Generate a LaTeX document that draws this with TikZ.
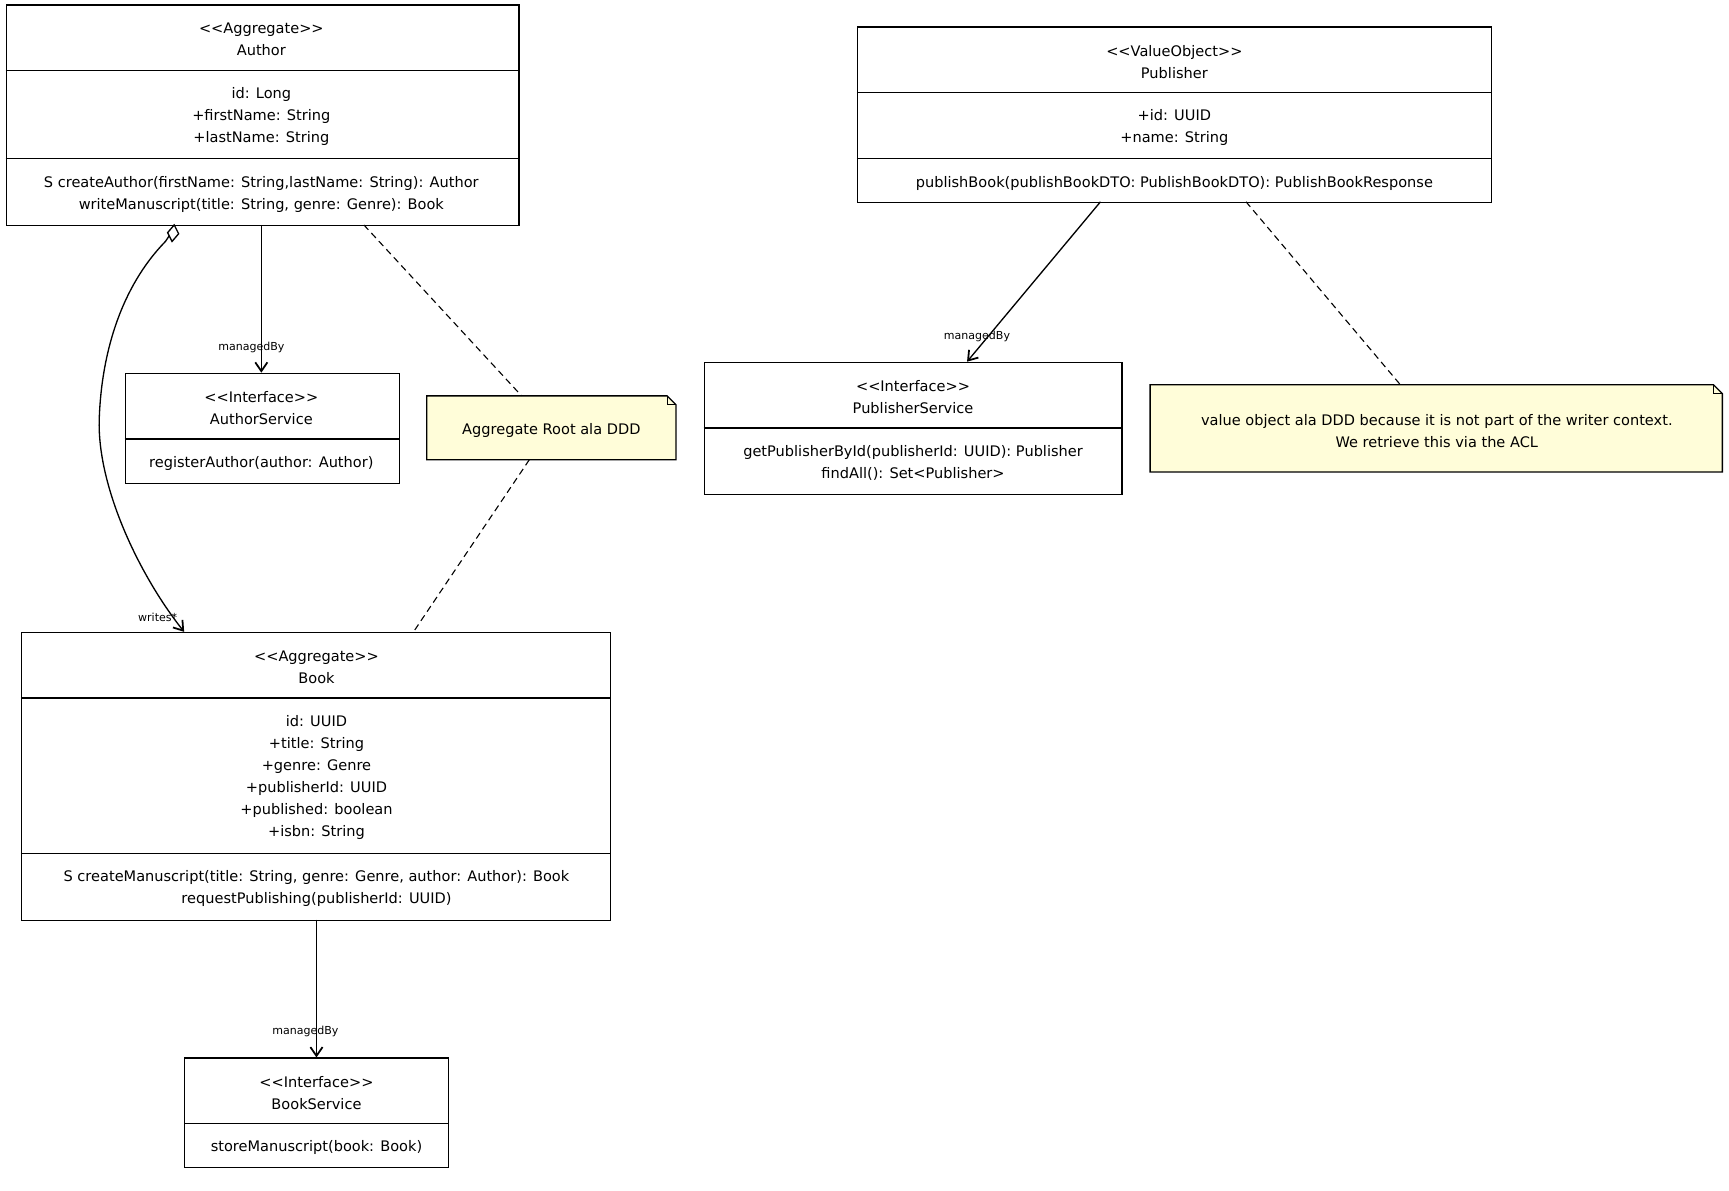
\documentclass[tikz,border=0pt]{standalone}
\usepackage{fontspec}
\setmainfont{DejaVu Sans}
\usetikzlibrary{arrows.meta,shapes.geometric}
\newcommand{\ltlt}{{<}{<}}
\newcommand{\gtgt}{{>}{>}}
\begin{document}
\begin{tikzpicture}[x=0.5pt,y=-0.5pt,
  box/.style={draw,line width=0.6pt,anchor=north west,inner sep=0pt,fill=white},
  txt/.style={align=center,font=\fontsize{6.6}{10}\selectfont,inner sep=0pt,yshift=-1pt},
  lbl/.style={font=\fontsize{5}{6}\selectfont,inner sep=0pt},
  conn/.style={line width=0.6pt,-{Straight Barb[length=4pt,width=5.5pt,line width=0.8pt]}},
  noteline/.style={line width=0.5pt,dash pattern=on 3pt off 2pt}]
\useasboundingbox (0,0) rectangle (1568,1080);
\newcommand{\umlbox}[7]{% name,x1,y1,x2,y2,sep1,sep2
  \node[box,minimum width={(#4-#2)*0.5pt},minimum height={(#5-#3)*0.5pt}] (#1) at (#2,#3) {};
  \draw[line width=0.6pt] (#2,#6) -- (#4,#6);
  \ifx&#7&\else\draw[line width=0.6pt] (#2,#7) -- (#4,#7);\fi}
\newcommand{\note}[5]{%
  \fill[yellow!15!white] (#2,#3) -- (#4-8,#3) -- (#4,#3+8) -- (#4,#5) -- (#2,#5) -- cycle;
  \node[draw=none,anchor=north west,minimum width={(#4-#2)*0.5pt},minimum height={(#5-#3)*0.5pt},inner sep=0pt] (#1) at (#2,#3) {};
  \draw[line width=0.6pt] (#2,#3) -- (#4-8,#3) -- (#4,#3+8) -- (#4,#5) -- (#2,#5) -- cycle;
  \draw[line width=0.5pt] (#4-8,#3) -- (#4-8,#3+8) -- (#4,#3+8);}
% Author
\umlbox{author}{5}{4}{470}{204}{64}{144}
\node[txt] (authorT) at (237,34) {\ltlt Aggregate\gtgt\\Author};
\node[txt] (authorA) at (237,104) {id: Long\\+firstName: String\\+lastName: String};
\node[txt] (authorO) at (237,174) {S createAuthor(firstName: String,lastName: String): Author\\writeManuscript(title: String, genre: Genre): Book};
% AuthorService
\umlbox{aserv}{113}{338}{362}{438}{398}{}
\node[txt] (aservT) at (237,368) {\ltlt Interface\gtgt\\AuthorService};
\node[txt] (aservO) at (237,418) {registerAuthor(author: Author)};
% Note 1
\note{note1}{387}{359}{613}{417}
\node[txt] (note1T) at (500,388) {Aggregate Root ala DDD};
% Book
\umlbox{book}{19}{573}{553}{834}{633}{774}
\node[txt] (bookT) at (287,603) {\ltlt Aggregate\gtgt\\Book};
\node[txt] (bookA) at (287,703) {id: UUID\\+title: String\\+genre: Genre\\+publisherId: UUID\\+published: boolean\\+isbn: String};
\node[txt] (bookO) at (287,804) {S createManuscript(title: String, genre: Genre, author: Author): Book\\requestPublishing(publisherId: UUID)};
% BookService
\umlbox{bserv}{167}{959}{406}{1058}{1019}{}
\node[txt] (bservT) at (287,989) {\ltlt Interface\gtgt\\BookService};
\node[txt] (bservO) at (287,1039) {storeManuscript(book: Book)};
% Publisher
\umlbox{pub}{777}{24}{1352}{183}{84}{144}
\node[txt] (pubT) at (1065,54) {\ltlt ValueObject\gtgt\\Publisher};
\node[txt] (pubA) at (1065,114) {+id: UUID\\+name: String};
\node[txt] (pubO) at (1065,164) {publishBook(publishBookDTO: PublishBookDTO): PublishBookResponse};
% PublisherService
\umlbox{pserv}{638}{328}{1017}{448}{388}{}
\node[txt] (pservT) at (828,358) {\ltlt Interface\gtgt\\PublisherService};
\node[txt] (pservO) at (828,418) {getPublisherById(publisherId: UUID): Publisher\\findAll(): Set<Publisher>};
% Note 2
\note{note2}{1043}{349}{1562}{428}
\node[txt] (note2T) at (1303,389) {value object ala DDD because it is not part of the writer context.\\We retrieve this via the ACL};
% connectors
\coordinate (a1) at (237,204); \coordinate (as1) at (237,338);
\draw[conn] (a1) -- (as1);
\node[lbl] (l1) at (228,315) {managedBy};
\coordinate (a2) at (330,204); \coordinate (n1a) at (473,359);
\draw[noteline] (a2) -- (n1a);
\coordinate (n1b) at (480,417); \coordinate (b1) at (375,573);
\draw[noteline] (n1b) -- (b1);
\coordinate (a3) at (158,204); \coordinate (b2) at (167,573);
\draw[conn] (a3) -- ++(-4,9) -- ++(-4,6) .. controls (110,260) and (92,320) .. (90,380) .. controls (88,440) and (125,520) .. (b2);
\draw[line width=0.6pt,fill=white] (158,204) -- (162,212) -- (156,219) -- (152,211) -- cycle;
\node[lbl] (l2) at (143,560) {writes*};
\coordinate (b3) at (287,834); \coordinate (bs1) at (287,959);
\draw[conn] (b3) -- (bs1);
\node[lbl] (l3) at (277,935) {managedBy};
\coordinate (p1) at (998,183); \coordinate (ps1) at (877,328);
\draw[conn] (p1) -- (ps1);
\node[lbl] (l4) at (886,305) {managedBy};
\coordinate (p2) at (1130,183); \coordinate (n2a) at (1270,349);
\draw[noteline] (p2) -- (n2a);
\end{tikzpicture}
\end{document}
